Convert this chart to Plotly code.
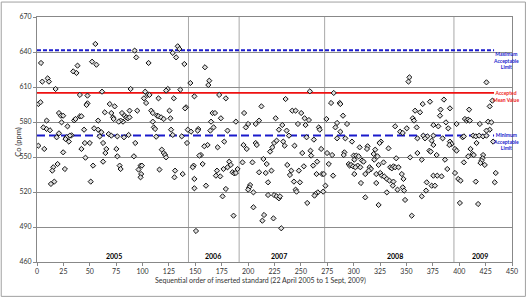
import plotly.graph_objects as go

# ---- data: (sequence number, Co ppm), grouped by sequence range ----
batch_a = [(3.8,630.6),(5.0,614.6),(10.1,617.4),(11.3,614.6),(17.6,608.3),(34.3,623.4),(37.4,622.0),(38.4,628.3),(52.2,631.7),(56.3,629.1),(55.3,646.9),(40.6,603.2),(47.8,602.6),(61.6,606.0),(1.3,595.4),(3.3,596.9),(47.8,596.0),(46.9,594.6),(68.9,595.4),(73.6,593.4),(9.1,581.2),(20.8,587.7),(22.6,585.4),(24.8,585.4),(23.3,579.7),(35.2,581.4),(36.5,582.6),(40.6,584.9),(42.1,584.9),(57.9,581.2),(64.2,588.3),(70.4,587.7),(72.0,584.0),(72.6,582.6),(6.0,575.4),(9.1,574.0),(12.3,572.9),(28.9,576.3),(20.8,570.3),(18.6,566.9),(32.7,568.6),(31.1,568.3),(28.0,566.9),(27.0,565.4),(30.2,563.2),(44.6,573.4),(54.1,574.6),(57.9,573.4),(61.0,571.2),(59.4,567.7),(67.9,569.7),(70.4,568.3),(1.3,559.7),(6.9,556.9),(45.3,562.0),(50.0,562.0),(42.1,556.9),(62.6,562.0),(65.7,556.9),(64.8,553.4),(75.2,556.9),(24.8,554.0),(45.9,549.4),(62.6,546.0),(53.1,542.6),(19.5,544.0),(15.4,541.2),(14.5,538.3),(26.4,539.7),(13.2,526.9),(16.4,528.9),(50.9,528.9)]

batch_b = [(92.5,641.2),(94.0,635.4),(105.7,630.6),(133.3,644.9),(134.9,642.6),(128.6,639.2),(131.8,635.4),(139.6,629.7),(145.3,613.4),(88.7,608.3),(102.5,606.0),(105.0,603.2),(106.6,603.2),(101.3,600.3),(103.4,596.3),(115.1,600.3),(123.9,608.3),(122.3,606.9),(129.6,600.3),(135.8,607.7),(141.2,592.6),(140.3,591.7),(149.1,602.0),(80.5,587.7),(87.7,589.7),(95.0,589.7),(83.0,585.4),(84.6,584.0),(86.2,583.2),(87.7,584.0),(81.5,580.3),(79.2,581.2),(77.4,580.3),(108.2,589.7),(109.7,587.7),(113.8,585.4),(115.1,584.9),(117.6,584.0),(120.1,582.6),(125.5,589.7),(126.4,583.2),(109.7,580.3),(110.7,575.4),(111.9,574.0),(127.0,573.4),(142.8,573.4),(145.9,571.7),(76.1,567.7),(82.4,566.9),(86.8,568.9),(112.9,567.4),(93.1,562.0),(128.6,568.9),(137.1,567.7),(142.1,562.0),(76.1,550.6),(91.8,550.6),(118.2,556.3),(120.1,553.4),(121.4,551.7),(122.3,549.7),(78.3,542.6),(79.2,539.7),(98.1,542.6),(99.4,542.6),(96.2,539.2),(98.7,535.4),(98.1,532.6),(116.0,539.2),(130.8,538.3),(130.2,532.6),(138.0,535.4),(148.4,542.6),(147.5,541.2),(149.1,531.2),(150.6,486.6)]

batch_c = [(159.1,626.9),(163.2,615.4),(162.3,611.7),(172.6,603.2),(178.9,600.3),(166.3,587.7),(168.6,587.7),(196.2,587.7),(212.6,593.4),(174.2,583.2),(164.9,580.3),(188.4,580.3),(152.8,574.0),(152.2,572.6),(164.2,572.6),(167.3,575.4),(180.5,572.6),(200.0,578.3),(197.8,575.4),(207.2,578.3),(210.4,581.2),(226.1,583.2),(161.6,560.3),(158.5,559.2),(171.1,558.3),(177.4,563.2),(195.6,560.3),(198.7,556.9),(207.2,562.0),(208.2,560.3),(224.6,562.0),(223.0,558.3),(220.8,554.6),(155.3,551.7),(153.8,551.2),(156.9,544.0),(182.1,546.0),(183.6,543.2),(180.5,541.2),(176.7,539.7),(170.5,538.3),(169.5,534.0),(173.6,533.4),(185.2,536.9),(186.8,536.0),(188.4,536.3),(190.0,539.7),(194.7,545.4),(204.1,545.4),(214.5,548.3),(217.6,544.0),(210.4,536.9),(216.7,536.3),(222.1,538.3),(149.1,523.2),(160.1,525.4),(178.9,522.6),(175.8,516.3),(201.9,526.0),(201.0,524.0),(200.0,522.0),(205.0,519.7),(218.9,528.3),(218.9,517.4),(224.6,517.4),(205.0,506.9),(215.1,500.3),(213.5,495.4),(224.0,497.4),(186.2,499.7)]

batch_d = [(258.5,606.3),(281.1,604.9),(235.5,599.7),(278.6,596.3),(286.8,596.3),(287.4,595.4),(241.8,589.7),(245.0,589.7),(250.3,587.7),(253.5,583.2),(257.6,581.7),(247.2,578.3),(254.4,577.4),(274.2,582.6),(289.9,585.4),(284.3,579.2),(293.7,578.3),(229.2,573.4),(236.5,572.6),(232.4,577.4),(267.0,575.4),(267.9,573.4),(282.7,575.4),(287.4,571.7),(238.7,568.3),(255.4,566.9),(262.3,564.9),(233.3,563.2),(227.0,564.0),(234.6,559.7),(244.0,559.7),(259.1,555.4),(259.7,551.2),(251.3,553.4),(269.2,556.9),(274.8,553.4),(279.6,551.7),(291.2,554.0),(290.6,551.7),(284.3,566.0),(292.1,566.0),(298.4,563.2),(300.0,551.2),(295.3,544.0),(296.2,542.6),(297.5,543.2),(299.4,542.0),(300.6,535.4),(237.1,543.2),(239.6,534.6),(240.9,538.3),(248.1,538.3),(252.8,542.0),(261.6,542.6),(265.4,546.0),(276.4,544.0),(264.8,535.4),(270.1,535.4),(271.7,535.4),(280.5,534.0),(243.4,528.9),(249.1,528.3),(245.0,522.0),(245.9,520.3),(273.3,525.4),(271.1,520.3),(266.0,519.7),(263.8,518.3),(262.9,516.9),(256.0,510.6),(227.0,516.3),(229.2,514.6),(230.2,516.3),(231.4,488.9)]

batch_e = [(352.8,618.3),(351.9,614.6),(365.4,595.4),(372.3,597.4),(358.2,589.7),(362.9,588.3),(356.0,583.2),(357.2,581.2),(339.3,576.3),(350.3,574.6),(359.7,575.4),(344.0,571.7),(346.5,570.6),(366.0,568.3),(369.8,567.7),(367.6,566.0),(373.9,564.0),(375.5,560.3),(360.4,566.0),(371.7,555.4),(373.0,554.6),(325.8,563.2),(324.5,562.0),(305.7,558.3),(313.2,559.2),(312.6,556.9),(320.4,556.3),(322.6,550.6),(318.9,552.6),(333.0,557.4),(302.5,551.2),(304.7,550.6),(300.6,547.7),(307.9,546.9),(309.4,546.0),(303.8,542.6),(301.6,541.2),(306.3,541.2),(315.1,541.2),(316.4,539.7),(314.2,538.3),(319.5,547.7),(323.6,543.2),(328.3,545.4),(340.3,548.9),(334.6,541.2),(336.2,540.3),(337.7,542.0),(339.3,541.2),(342.5,541.2),(353.5,549.7),(360.4,553.4),(364.5,547.7),(311.0,535.4),(321.4,535.4),(325.2,536.3),(326.7,534.0),(328.9,533.4),(331.4,531.2),(333.9,529.7),(337.7,528.9),(337.1,525.4),(345.6,535.4),(347.2,531.2),(306.9,527.7),(321.4,527.7),(341.5,522.0),(346.5,524.0),(347.8,521.2),(348.7,513.2),(331.4,519.7),(369.2,528.3),(368.6,521.2),(364.5,516.3),(373.9,525.4),(311.0,515.4),(323.6,508.9),(355.0,499.7)]

batch_f = [(425.8,614.0),(431.4,598.3),(428.9,593.4),(385.5,599.2),(382.4,590.6),(391.2,591.7),(381.8,585.4),(409.4,590.6),(375.5,577.4),(380.2,576.3),(387.4,579.7),(389.6,574.6),(397.5,578.3),(405.4,582.6),(407.0,581.2),(408.5,582.0),(410.1,581.2),(419.5,578.3),(427.4,580.3),(430.5,579.7),(428.9,573.4),(425.8,572.6),(375.5,568.3),(384.3,566.0),(391.2,563.2),(392.8,561.2),(390.6,560.3),(403.2,566.9),(404.4,567.7),(413.2,568.3),(415.7,567.7),(418.9,568.3),(422.6,567.7),(425.8,568.3),(432.1,563.2),(396.0,556.9),(397.5,555.4),(410.7,556.9),(416.4,562.0),(412.6,552.6),(413.8,551.7),(422.6,551.7),(422.0,548.9),(421.1,546.9),(420.1,544.9),(424.2,543.2),(378.6,551.7),(386.5,547.7),(404.4,545.4),(408.5,550.6),(388.7,539.7),(375.5,534.0),(379.2,534.0),(383.3,533.4),(396.0,536.3),(399.1,531.2),(401.3,529.7),(415.7,528.9),(434.6,536.3),(433.6,528.3),(377.0,525.4),(400.6,510.6),(417.9,509.7)]

max_limit = 641.5
accepted_mean = 605.0
min_limit = 568.5
ref_line_end = 433

year_breaks = [143.5, 191.5, 272.5, 395]
year_labels = ["2005", "2006", "2007", "2008", "2009"]
year_label_x = [73, 167, 229, 339, 420]

x_ticks = list(range(0, 451, 25))
y_ticks = list(range(460, 671, 30))

FONT = "Lato, Liberation Sans, sans-serif"

all_pts = batch_a + batch_b + batch_c + batch_d + batch_e + batch_f
seq = [p[0] for p in all_pts]
co = [p[1] for p in all_pts]

fig = go.Figure()

# year separators
for xb in year_breaks:
    fig.add_shape(type="line", xref="x", yref="y", x0=xb, x1=xb, y0=460, y1=670,
                  line=dict(color="#a8a8a8", width=1), layer="below")

fig.add_trace(go.Scatter(x=[0, ref_line_end], y=[max_limit]*2, mode="lines",
                         line=dict(color="#1a1acc", width=2, dash="4px,2px"), hoverinfo="skip"))
fig.add_trace(go.Scatter(x=[0, ref_line_end], y=[accepted_mean]*2, mode="lines",
                         line=dict(color="#ee1111", width=1.6), hoverinfo="skip"))
fig.add_trace(go.Scatter(x=[0, ref_line_end], y=[min_limit]*2, mode="lines",
                         line=dict(color="#1a1acc", width=2, dash="8px,4px"), hoverinfo="skip"))

fig.add_trace(go.Scatter(x=seq, y=co, mode="markers",
                         marker=dict(symbol="diamond", size=4, color="#dddddd",
                                     line=dict(color="#111111", width=1))))

annots = []
for lbl, xv in zip(year_labels, year_label_x):
    annots.append(dict(x=xv, y=465, xref="x", yref="y", text="<b>%s</b>" % lbl,
                       showarrow=False, font=dict(family=FONT, size=7, color="#000000")))

annots.append(dict(x=444.5, y=642.5, xref="x", yref="y", yanchor="top",
                   text="<b>Maximum<br>Acceptable<br>Limit</b>", showarrow=False,
                   font=dict(family=FONT, size=5, color="#2222cc"), align="center"))
annots.append(dict(x=444.5, y=609.5, xref="x", yref="y", yanchor="top",
                   text="<b>Accepted<br>Mean Value</b>", showarrow=False,
                   font=dict(family=FONT, size=5, color="#ee2222"), align="center"))
annots.append(dict(x=444.5, y=573.5, xref="x", yref="y", yanchor="top",
                   text="<b>Minimum<br>Acceptable<br>Limit</b>", showarrow=False,
                   font=dict(family=FONT, size=5, color="#2222cc"), align="center"))

annots.append(dict(x=-0.052, y=0.49, xref="paper", yref="paper", textangle=-90,
                   text="Co (ppm)", showarrow=False, font=dict(family=FONT, size=7.5, color="#333333")))
annots.append(dict(x=0.47, y=-0.102, xref="paper", yref="paper",
                   text="Sequential order of inserted standard (22 April 2005 to 1 Sept, 2009)",
                   showarrow=False, font=dict(family=FONT, size=7, color="#333333")))

# outer chart border
fig.add_shape(type="rect", xref="paper", yref="paper",
              x0=(1-37)/478, x1=(528.5-37)/478, y0=(262-296.5)/246, y1=(262-1)/246,
              line=dict(color="#a0a0a0", width=1))

fig.update_layout(
    width=530, height=298, margin=dict(l=37, r=15, t=16, b=36),
    paper_bgcolor="white", plot_bgcolor="white", showlegend=False,
    annotations=annots,
    font=dict(family=FONT, size=7, color="#333333"),
)
fig.update_xaxes(range=[0, 450], tickvals=x_ticks, showgrid=False, zeroline=False,
                 showline=True, linecolor="#888", linewidth=1, mirror=True,
                 ticks="outside", ticklen=3, tickcolor="#888",
                 tickfont=dict(family=FONT, size=7, color="#333333"))
fig.update_yaxes(range=[460, 670], tickvals=y_ticks, showgrid=True, gridcolor="#8c8c8c",
                 gridwidth=1, zeroline=False, showline=True, linecolor="#888", linewidth=1,
                 mirror=True, ticks="outside", ticklen=3, tickcolor="#888",
                 tickfont=dict(family=FONT, size=7, color="#333333"))

fig.write_html("out.html")
